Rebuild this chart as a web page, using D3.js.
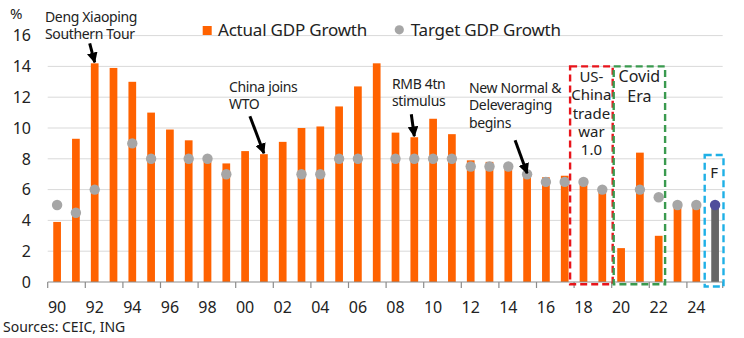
<!DOCTYPE html>
<html>
<head>
<meta charset="utf-8">
<script src="https://cdn.jsdelivr.net/npm/d3@7"></script>
<style>
  body { margin: 0; background: #fff; }
  svg { display: block; font-family: "Noto Sans", sans-serif; }
</style>
</head>
<body>
<div id="chart"></div>
<script>
// data
var years = d3.range(1990, 2026);
var actualGrowth = [3.9, 9.3, 14.2, 13.9, 13.0, 11.0, 9.9, 9.2, 7.8, 7.7,
  8.5, 8.3, 9.1, 10.0, 10.1, 11.4, 12.7, 14.2, 9.7, 9.4,
  10.6, 9.6, 7.9, 7.8, 7.4, 7.0, 6.8, 6.9, 6.7, 6.0,
  2.2, 8.4, 3.0, 5.2, 5.0, 4.8];
var targetGrowth = [5.0, 4.5, 6.0, null, 9.0, 8.0, null, 8.0, 8.0, 7.0,
  null, null, null, 7.0, 7.0, 8.0, 8.0, null, 8.0, 8.0,
  8.0, 8.0, 7.5, 7.5, 7.5, 7.0, 6.5, 6.5, 6.5, 6.0,
  null, 6.0, 5.5, 5.0, 5.0, 5.0];
var forecastYear = 2025;
var yTicks = [0, 2, 4, 6, 8, 10, 12, 14, 16];
var xLabelYears = d3.range(1990, 2025, 2);
var legendLabels = ["Actual GDP Growth", "Target GDP Growth"];

// annotations: text lines + the year the arrow points at
var notes = [
  { lines: ["Deng Xiaoping", "Southern Tour"], year: 1992, tx: 45, ty: 22, from: [-5, -20] },
  { lines: ["China joins", "WTO"], year: 2001, tx: 229, ty: 92, from: [-14, -38] },
  { lines: ["RMB 4tn", "stimulus"], year: 2009, tx: 392, ty: 89, from: [-3, -23] },
  { lines: ["New Normal &", "Deleveraging", "begins"], year: 2015, tx: 469, ty: 93, from: [-12, -34], onTarget: true }
];
var periods = [
  { lines: ["US-", "China", "trade", "war", "1.0"], from: 2018, to: 2019, top: 14, color: "#e8141b", l: -4, r: 1, ty: 82, lh: 18.3 },
  { lines: ["Covid", "Era"], from: 2020, to: 2022, top: 14, color: "#3a9a4f", l: 2, r: -3, ty: 82, lh: 20 },
  { lines: ["F"], from: 2025, to: 2025, top: 8.25, color: "#1fb0e6", l: -1, r: -1, ty: 178, lh: 18 }
];

var W = 744, H = 338;
var svg = d3.select("#chart").append("svg").attr("width", W).attr("height", H);

var x = d3.scaleBand().domain(years).range([47.7, 724.5])
  .paddingInner(0.59).paddingOuter(0.295);
var y = d3.scaleLinear().domain([0, 16]).range([282, 35.6]);
var step = x.step();
var slotLeft = function(yr) { return x(yr) - x.paddingInner() * step / 2; };

// gridlines
svg.append("g").selectAll("line").data(yTicks.slice(1)).enter().append("line")
  .attr("x1", 47.7).attr("x2", 722.7)
  .attr("y1", function(d) { return y(d); }).attr("y2", function(d) { return y(d); })
  .attr("stroke", "#d9d9d9").attr("stroke-width", 1);

// y labels
svg.append("g").selectAll("text").data(yTicks).enter().append("text")
  .attr("x", 31).attr("y", function(d) { return y(d); }).attr("dy", "0.36em")
  .attr("text-anchor", "end").attr("font-size", 16).attr("fill", "#222")
  .text(function(d) { return d; });
svg.append("text").attr("x", 10).attr("y", 19).attr("font-size", 15).attr("fill", "#222").text("%");

// bars
svg.append("g").selectAll("rect").data(years).enter().append("rect")
  .attr("x", function(d) { return x(d); })
  .attr("width", x.bandwidth())
  .attr("y", function(d, i) { return y(actualGrowth[i]); })
  .attr("height", function(d, i) { return y(0) - y(actualGrowth[i]); })
  .attr("fill", function(d) { return d === forecastYear ? "#666666" : "#ff6200"; });

// target dots
svg.append("g").selectAll("circle").data(years.filter(function(d, i) { return targetGrowth[i] != null; }))
  .enter().append("circle")
  .attr("cx", function(d) { return x(d) + x.bandwidth() / 2; })
  .attr("cy", function(d) { return y(targetGrowth[years.indexOf(d)]); })
  .attr("r", 5.2)
  .attr("fill", function(d) { return d === forecastYear ? "#4f4d9b" : "#a6a6a6"; });

// x axis
var axisG = svg.append("g");
axisG.append("line").attr("x1", 47.7).attr("x2", 722.7).attr("y1", y(0)).attr("y2", y(0))
  .attr("stroke", "#8c8c8c").attr("stroke-width", 1.2);
axisG.selectAll("line.tick").data(d3.range(0, years.length + 1, 2)).enter().append("line")
  .attr("class", "tick")
  .attr("x1", function(i) { return Math.min(47.7 + i * step, 722.7); })
  .attr("x2", function(i) { return Math.min(47.7 + i * step, 722.7); })
  .attr("y1", y(0)).attr("y2", y(0) + 6)
  .attr("stroke", "#8c8c8c").attr("stroke-width", 1.2);
axisG.selectAll("text").data(xLabelYears).enter().append("text")
  .attr("x", function(d) { return x(d) + x.bandwidth() / 2; })
  .attr("y", 313).attr("text-anchor", "middle").attr("font-size", 16).attr("fill", "#222")
  .text(function(d) { return String(d).slice(2); });

// legend
svg.append("rect").attr("x", 202.7).attr("y", 26).attr("width", 9).attr("height", 9).attr("fill", "#ff6200");
svg.append("text").attr("x", 218).attr("y", 35.5).attr("font-size", 17).attr("letter-spacing", -0.2)
  .attr("fill", "#222").text(legendLabels[0]);
svg.append("circle").attr("cx", 399.3).attr("cy", 29.8).attr("r", 4.6).attr("fill", "#a6a6a6");
svg.append("text").attr("x", 410.7).attr("y", 35.5).attr("font-size", 17).attr("letter-spacing", -0.2)
  .attr("fill", "#222").text(legendLabels[1]);

// period boxes
periods.forEach(function(p) {
  var x0 = slotLeft(p.from) + p.l, x1 = slotLeft(p.to) + step + p.r;
  svg.append("rect").attr("x", x0).attr("y", y(p.top))
    .attr("width", x1 - x0).attr("height", y(0) + (p.lines.length === 1 ? 4.5 : 2.3) - y(p.top))
    .attr("fill", "none").attr("stroke", p.color).attr("stroke-width", 2.4)
    .attr("stroke-dasharray", "7,4");
  var t = svg.append("text").attr("text-anchor", "middle")
    .attr("font-size", p.lines.length === 2 ? 16 : 15).attr("fill", "#222");
  p.lines.forEach(function(l, k) {
    t.append("tspan").attr("x", (x0 + x1) / 2).attr("y", p.ty + k * p.lh).text(l);
  });
});

// annotations with arrows
var defs = svg.append("defs");
defs.append("marker").attr("id", "arr").attr("viewBox", "0 0 10 10")
  .attr("refX", 9).attr("refY", 5).attr("markerWidth", 3.6).attr("markerHeight", 3.6)
  .attr("markerUnits", "strokeWidth").attr("orient", "auto")
  .append("path").attr("d", "M0,0L10,5L0,10z").attr("fill", "#000");

notes.forEach(function(n) {
  var t = svg.append("text").attr("font-size", 14).attr("letter-spacing", -0.35).attr("fill", "#222");
  n.lines.forEach(function(l, k) {
    t.append("tspan").attr("x", n.tx).attr("y", n.ty + k * 17.3).text(l);
  });
  var i = years.indexOf(n.year);
  var tipX = x(n.year) + x.bandwidth() / 2;
  var tipY = n.onTarget ? y(targetGrowth[i]) : y(actualGrowth[i]);
  svg.append("line").attr("x1", tipX + n.from[0]).attr("y1", tipY + n.from[1])
    .attr("x2", tipX).attr("y2", tipY - 1)
    .attr("stroke", "#000").attr("stroke-width", 3).attr("marker-end", "url(#arr)");
});

svg.append("text").attr("x", 3).attr("y", 332).attr("font-size", 14).attr("fill", "#222").text("Sources: CEIC, ING");
</script>
</body>
</html>
